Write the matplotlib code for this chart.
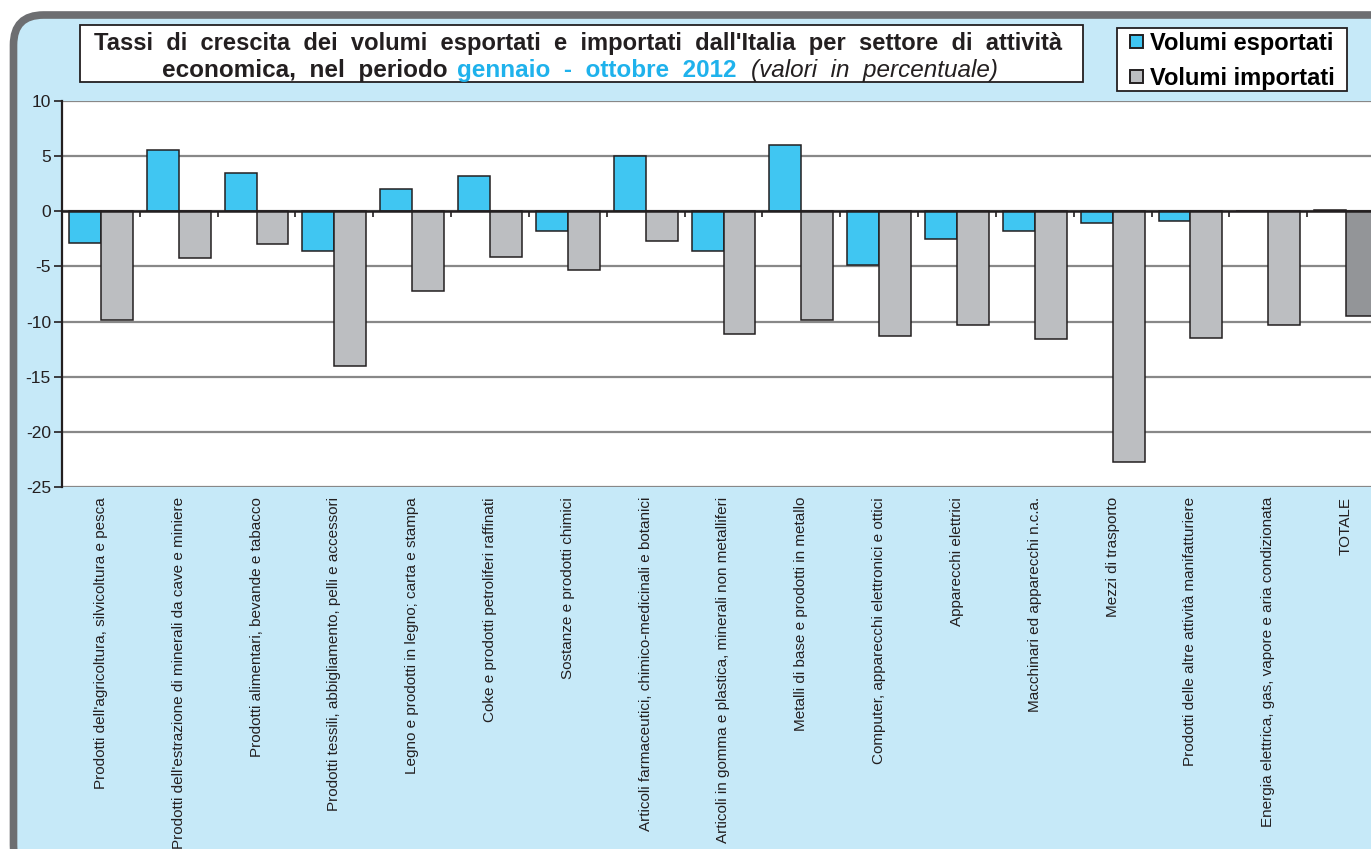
import numpy as np
import matplotlib
matplotlib.use("Agg")
import matplotlib.pyplot as plt
from matplotlib.patches import FancyBboxPatch, Rectangle, Patch
from matplotlib.transforms import blended_transform_factory

plt.rcParams["font.family"] = ["Liberation Sans", "DejaVu Sans"]
plt.rcParams["axes.unicode_minus"] = False

SETTORI = [
    "Prodotti dell'agricoltura, silvicoltura e pesca",
    "Prodotti dell'estrazione di minerali da cave e miniere",
    "Prodotti alimentari, bevande e tabacco",
    "Prodotti tessili, abbigliamento, pelli e accessori",
    "Legno e prodotti in legno; carta e stampa",
    "Coke e prodotti petroliferi raffinati",
    "Sostanze e prodotti chimici",
    "Articoli farmaceutici, chimico-medicinali e botanici",
    "Articoli in gomma e plastica, minerali non metalliferi",
    "Metalli di base e prodotti in metallo",
    "Computer, apparecchi elettronici e ottici",
    "Apparecchi elettrici",
    "Macchinari ed apparecchi n.c.a.",
    "Mezzi di trasporto",
    "Prodotti delle altre attività manifatturiere",
    "Energia elettrica, gas, vapore e aria condizionata",
    "TOTALE",
]
ESPORTATI = [-2.9, 5.6, 3.5, -3.6, 2.0, 3.2, -1.8, 5.0, -3.6, 6.0,
             -4.9, -2.5, -1.8, -1.1, -0.9, 0.0, 0.15]
IMPORTATI = [-9.9, -4.2, -3.0, -14.0, -7.2, -4.1, -5.3, -2.7, -11.1, -9.9,
             -11.3, -10.3, -11.6, -22.7, -11.5, -10.3, -9.5]
Y_TICKS = [10, 5, 0, -5, -10, -15, -20, -25]

C_EXP = "#40c6f2"
C_IMP = "#bcbec1"
C_TOT = "#939598"
C_EDGE = "#231f20"
C_PANEL = "#c6e9f8"
C_FRAME = "#6d6e71"

W, H = 1371, 849
fig = plt.figure(figsize=(W / 100, H / 100), dpi=100, facecolor="white")

# sfondo in pixel (cornice arrotondata, box titolo e legenda)
bg = fig.add_axes([0, 0, 1, 1], zorder=0)
bg.set_xlim(0, W)
bg.set_ylim(H, 0)
bg.axis("off")
bg.add_patch(FancyBboxPatch((13.5, 15), 1400, 860,
                            boxstyle="round,pad=0,rounding_size=30",
                            fc=C_PANEL, ec=C_FRAME, lw=5.5))
bg.add_patch(Rectangle((80, 25), 1003, 57, fc="white", ec=C_EDGE, lw=1.3))
bg.add_patch(Rectangle((1117, 28), 230, 63, fc="white", ec=C_EDGE, lw=1.3))

FS_T = 17.5
bg.text(578, 43, "Tassi  di  crescita  dei  volumi  esportati  e  importati  dall'Italia  per  settore  di  attività",
        ha="center", va="center", fontsize=17.1, fontweight="bold", color=C_EDGE)
t1 = bg.text(162, 82, "economica,  nel  periodo", ha="left", va="bottom",
             fontsize=FS_T, fontweight="bold", color=C_EDGE)
t2 = bg.annotate("gennaio  -  ottobre  2012", xy=(1, 0), xycoords=t1,
                 xytext=(7, 0), textcoords="offset points", ha="left", va="bottom",
                 fontsize=FS_T, fontweight="bold", color="#1fb2ec")
bg.annotate("(valori  in  percentuale)", xy=(1, 0), xycoords=t2,
            xytext=(10, 0), textcoords="offset points", ha="left", va="bottom",
            fontsize=FS_T, fontstyle="italic", color=C_EDGE)

bg.text(1358, 122, "Fonte: ISTAT", ha="right", va="center", fontsize=13, color=C_EDGE)

# grafico
ax = fig.add_axes([62 / W, 1 - 487 / H, (1385 - 62) / W, 386 / H], zorder=1)
ax.set_facecolor("white")
x = np.arange(len(SETTORI))
col_exp = [C_EXP] * (len(SETTORI) - 1) + [C_TOT]
col_imp = [C_IMP] * (len(SETTORI) - 1) + [C_TOT]
ax.bar(x + 0.09, ESPORTATI, width=0.41, align="edge", color=col_exp,
       edgecolor=C_EDGE, linewidth=1.1, zorder=3)
ax.bar(x + 0.5, IMPORTATI, width=0.41, align="edge", color=col_imp,
       edgecolor=C_EDGE, linewidth=1.1, zorder=3)

ax.set_xlim(0, len(SETTORI))
ax.set_ylim(-25, 10)
ax.set_yticks(Y_TICKS)
ax.yaxis.grid(True, color="#888888", linewidth=1.6)
ax.set_axisbelow(True)
ax.tick_params(axis="y", length=6, width=1.2, pad=2, labelsize=12.5, labelcolor=C_EDGE, color=C_EDGE)

for s in ("top", "right"):
    ax.spines[s].set_visible(False)
ax.spines["left"].set_color(C_EDGE)
ax.spines["left"].set_linewidth(1.6)
ax.spines["bottom"].set_position(("data", 0))
ax.spines["bottom"].set_color(C_EDGE)
ax.spines["bottom"].set_linewidth(1.8)
ax.spines["bottom"].set_zorder(4)
ax.set_xticks(np.arange(1, len(SETTORI)))
ax.set_xticklabels([])
ax.tick_params(axis="x", direction="out", length=4, width=1.2, color=C_EDGE)

trans = blended_transform_factory(ax.transData, ax.transAxes)
for i, s in enumerate(SETTORI):
    ax.text(i + 0.5, -0.026, s, transform=trans, rotation=90, ha="center", va="top",
            fontsize=11, color=C_EDGE, clip_on=False)

handles = [Patch(facecolor=C_EXP, edgecolor=C_EDGE, linewidth=1.4, label="Volumi esportati"),
           Patch(facecolor=C_IMP, edgecolor=C_EDGE, linewidth=1.4, label="Volumi importati")]
leg = fig.legend(handles=handles, loc="upper left", bbox_to_anchor=(1130 / W, 1 - 32 / H),
                 frameon=False, prop={"weight": "bold", "size": 17},
                 handlelength=0.55, handleheight=0.5, handletextpad=0.3,
                 labelspacing=0.5, borderpad=0, borderaxespad=0)
leg.set_zorder(5)

fig.savefig("out.png", dpi=100)
